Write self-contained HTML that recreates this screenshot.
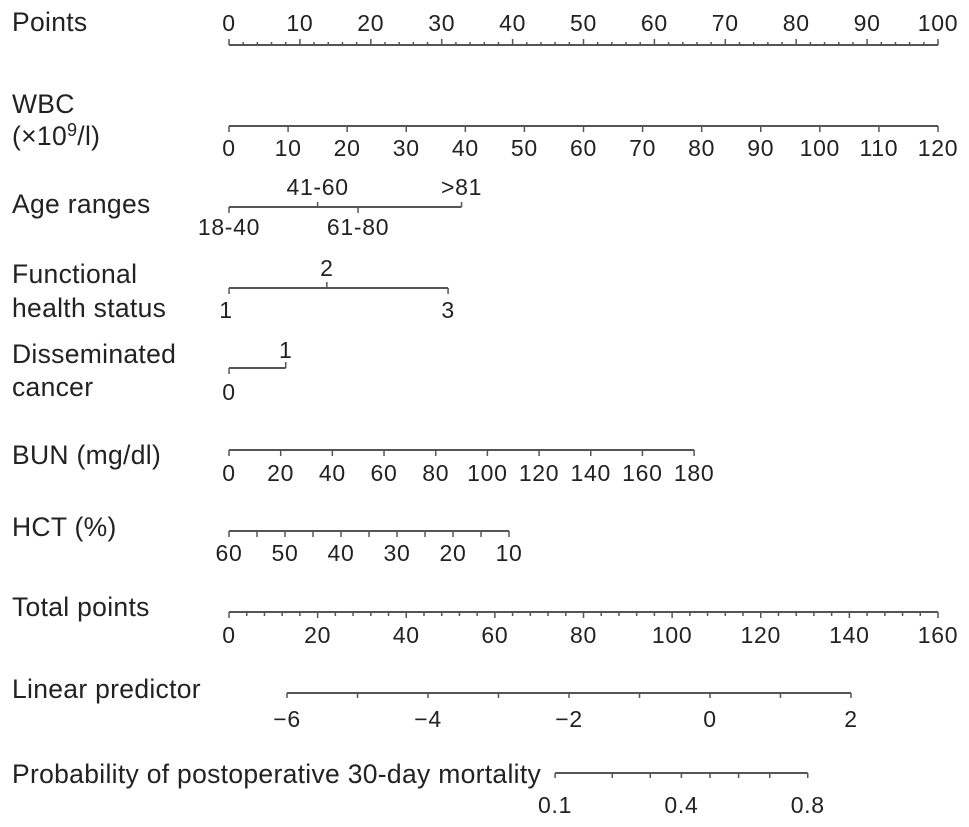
<!DOCTYPE html>
<html><head><meta charset="utf-8"><style>
html,body{margin:0;padding:0;background:#fff;}
svg{display:block;font-family:"Liberation Sans",Arial,sans-serif;}
.lbl{font-size:26.5px;fill:#222;letter-spacing:0.3px;}
.tk{font-size:23px;fill:#222;text-anchor:middle;letter-spacing:0.7px;}
.ax{stroke:#555;stroke-width:2;fill:none;}
.tkl{stroke:#555;stroke-width:1.5;}
</style></head><body>
<svg id="chart" width="969" height="827" viewBox="0 0 969 827" xmlns="http://www.w3.org/2000/svg"></svg>
<script>
const pointsTicks=[0,10,20,30,40,50,60,70,80,90,100];
const wbcTicks=[0,10,20,30,40,50,60,70,80,90,100,110,120];
const ageCats=["18-40","41-60","61-80",">81"];
const agePoints=[0,12.5,18.2,32.8];
const fhsCats=["1","2","3"];
const fhsPoints=[0,13.8,30.9];
const dcCats=["0","1"];
const dcPoints=[0,8];
const bunTicks=[0,20,40,60,80,100,120,140,160,180];
const bunMaxPoints=65.6;
const hctTicks=[60,50,40,30,20,10];
const hctMaxPoints=39.5;
const totalTicks=[0,20,40,60,80,100,120,140,160];
const lpTicks=[-6,-4,-2,0,2];
const probTicks=[0.1,0.2,0.3,0.4,0.5,0.6,0.7,0.8];
const probLabels=["0.1","","","0.4","","","","0.8"];

const svg=document.getElementById('chart');
const NS="http://www.w3.org/2000/svg";
const X0=229,X1=938;
const px=p=>X0+(X1-X0)*p/100;
const tx=t=>X0+(X1-X0)*t/160;
const lx=v=>287+(v+6)*(851-287)/8;
function mk(tag,attrs,parent){const e=document.createElementNS(NS,tag);for(const k in attrs)e.setAttribute(k,attrs[k]);(parent||svg).appendChild(e);return e;}
function text(x,y,s,cls,parent){const t=mk('text',{x:x,y:y,class:cls},parent);t.textContent=s;return t;}
function group(name){const g=mk('g',{});return g;}
function line(g,x1,y1,x2,y2,cls){mk('line',{x1:x1,y1:y1,x2:x2,y2:y2,class:cls},g);}

const labels=[["Points",31],["WBC",113],["Functional",283],["health status",317],["Disseminated",363],["cancer",396],["BUN (mg/dl)",464],["HCT (%)",536],["Total points",616],["Linear predictor",698],["Probability of postoperative 30-day mortality",783]];
const lg=group('row-labels');
labels.forEach(l=>text(12,l[1],l[0],'lbl',lg));
const wl=text(12,145,'(×10','lbl',lg);
const sup=mk('tspan',{dy:-9,'font-size':'18'},wl);sup.textContent='9';
const r=mk('tspan',{dy:9},wl);r.textContent='/l)';
text(12,213,'Age ranges','lbl',lg);

let g=group('points-axis');
line(g,X0,45,X1,45,'ax');
for(let v=0;v<=100;v+=2){line(g,px(v),45,px(v),v%10===0?39:42,'tkl');}
pointsTicks.forEach(v=>text(px(v),31,String(v),'tk',g));

g=group('wbc-axis');
const wx=v=>px(v/120*100);
line(g,wx(0),126,wx(120),126,'ax');
wbcTicks.forEach(v=>{line(g,wx(v),126,wx(v),132,'tkl');text(wx(v),156,String(v),'tk',g);});

g=group('age-axis');
line(g,px(agePoints[0]),207,px(agePoints[3]),207,'ax');
agePoints.forEach((p,i)=>{line(g,px(p),207,px(p),i%2===0?213:202,'tkl');
  text(px(p),i%2===0?235:195,ageCats[i],'tk',g);});

g=group('functional-status-axis');
line(g,px(fhsPoints[0]),288,px(fhsPoints[2]),288,'ax');
fhsPoints.forEach((p,i)=>{line(g,px(p),288,px(p),i===1?282:294,'tkl');
  text(px(p)-(i===0?3:0),i===1?276:318,fhsCats[i],'tk',g);});

g=group('disseminated-cancer-axis');
line(g,px(dcPoints[0]),368,px(dcPoints[1]),368,'ax');
line(g,px(dcPoints[0]),368,px(dcPoints[0]),374,'tkl');
line(g,px(dcPoints[1]),368,px(dcPoints[1]),362,'tkl');
text(px(dcPoints[0]),400,dcCats[0],'tk',g);
text(px(dcPoints[1]),358,dcCats[1],'tk',g);

g=group('bun-axis');
const bx=v=>px(v/180*bunMaxPoints);
line(g,bx(0),450,bx(180),450,'ax');
bunTicks.forEach(v=>{line(g,bx(v),450,bx(v),456,'tkl');text(bx(v),481,String(v),'tk',g);});

g=group('hct-axis');
const hx=v=>px((60-v)/50*hctMaxPoints);
line(g,hx(60),531,hx(10),531,'ax');
for(let v=60;v>=10;v-=5)line(g,hx(v),531,hx(v),537,'tkl');
hctTicks.forEach(v=>text(hx(v),561,String(v),'tk',g));

g=group('total-points-axis');
line(g,tx(0),612,tx(160),612,'ax');
for(let v=0;v<=160;v+=4)line(g,tx(v),612,tx(v),v%20===0?618:616,'tkl');
totalTicks.forEach(v=>text(tx(v),643,String(v),'tk',g));

g=group('linear-predictor-axis');
line(g,lx(-6),693,lx(2),693,'ax');
for(let v=-6;v<=2;v++)line(g,lx(v),693,lx(v),698,'tkl');
lpTicks.forEach(v=>{const t=text(lx(v),727,v<0?'\u2212'+Math.abs(v):String(v),'tk',g);t.setAttribute('font-size','27');});

g=group('probability-axis');
const logit=p=>Math.log(p/(1-p));
const prx=p=>lx(logit(p));
line(g,prx(probTicks[0]),773,prx(probTicks[probTicks.length-1]),773,'ax');
probTicks.forEach((p,i)=>{line(g,prx(p),773,prx(p),778,'tkl');if(probLabels[i])text(prx(p),813,probLabels[i],'tk',g);});
</script>
</body></html>
